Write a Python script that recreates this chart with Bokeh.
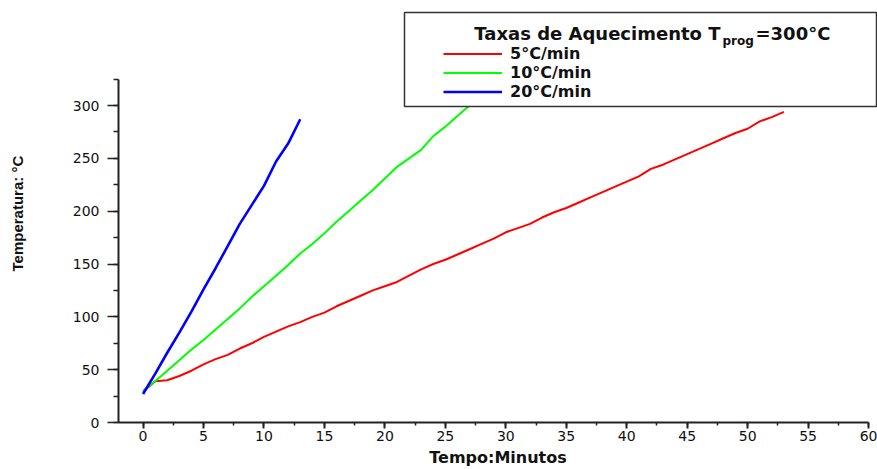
from bokeh.plotting import figure
from bokeh.models import Range1d, SingleIntervalTicker, Legend, LegendItem, Label, BoxAnnotation
from bokeh.embed import file_html
from bokeh.resources import INLINE

# ---- data ----
t_5 = [0, 1, 2, 3, 4, 5, 6, 7, 8, 9, 10, 11, 12, 13, 14, 15, 16, 17, 18, 19,
       20, 21, 22, 23, 24, 25, 26, 27, 28, 29, 30, 31, 32, 33, 34, 35, 36, 37, 38, 39,
       40, 41, 42, 43, 44, 45, 46, 47, 48, 49, 50, 51, 52, 53]
T_5 = [29, 39, 40, 44, 49, 55, 60, 64, 70, 75, 81, 86, 91, 95, 100, 104, 110, 115, 120, 125,
       129, 133, 139, 145, 150, 154, 159, 164, 169, 174, 180, 184, 188, 194, 199, 203, 208, 213, 218, 223,
       228, 233, 240, 244, 249, 254, 259, 264, 269, 274, 278, 285, 289, 294]
t_10 = [0, 1, 2, 3, 4, 5, 6, 7, 8, 9, 10, 11, 12, 13, 14, 15, 16, 17, 18, 19,
        20, 21, 22, 23, 24, 25, 26, 27]
T_10 = [30, 39, 49, 59, 69, 78, 88, 98, 108, 119, 129, 139, 149, 160, 169, 179, 190, 200, 210, 220,
        231, 242, 250, 258, 271, 280, 290, 300]
t_20 = [0, 1, 2, 3, 4, 5, 6, 7, 8, 9, 10, 11, 12, 13]
T_20 = [27, 46, 66, 85, 105, 126, 146, 167, 188, 206, 224, 247, 264, 287]

series_labels = ["5°C/min", "10°C/min", "20°C/min"]
legend_title_main = "Taxas de Aquecimento T"
legend_title_sub = "prog"
legend_title_tail = "=300°C"
x_title = "Tempo:Minutos"
y_title = "Temperatura:  °C"

TICK_FONT = "DejaVu Sans"

p = figure(width=877, height=469, output_backend="svg", toolbar_location=None,
           x_range=Range1d(-2.03, 60.74), y_range=Range1d(0, 399.4),
           min_border_left=118, min_border_right=0, min_border_top=0, min_border_bottom=47)
p.background_fill_color = "white"
p.border_fill_color = "white"
p.outline_line_color = None
p.xgrid.visible = False
p.ygrid.visible = False

r5 = p.line(t_5, T_5, line_color="#FF0000", line_width=2)
r10 = p.line(t_10, T_10, line_color="#00FF00", line_width=2)
r20 = p.line(t_20, T_20, line_color="#0000FF", line_width=2.6)

# axes
xa = p.xaxis[0]
xa.bounds = (-2.03, 60)
xa.ticker = SingleIntervalTicker(interval=5, num_minor_ticks=2)
xa.axis_label = x_title
xa.axis_label_text_font = TICK_FONT
xa.axis_label_text_font_style = "bold"
xa.axis_label_text_font_size = "16px"
xa.axis_label_text_color = "#111111"
xa.axis_label_standoff = 4
xa.major_label_text_font = TICK_FONT
xa.major_label_text_font_size = "14px"
xa.major_label_standoff = 2
xa.major_tick_out = 6
xa.major_tick_in = 0
xa.minor_tick_out = 3
xa.minor_tick_in = 0
xa.axis_line_width = 2
xa.major_tick_line_width = 2
xa.minor_tick_line_width = 1.5
xa.axis_line_color = "#222222"
xa.major_tick_line_color = "#222222"
xa.minor_tick_line_color = "#222222"
xa.major_label_text_color = "#111111"

ya = p.yaxis[0]
ya.bounds = (0, 325)
ya.ticker = SingleIntervalTicker(interval=50, num_minor_ticks=2)
ya.axis_label = y_title
ya.axis_label_text_font = "Liberation Sans"
ya.axis_label_text_font_style = "bold"
ya.axis_label_text_font_size = "15px"
ya.axis_label_text_color = "#111111"
ya.axis_label_standoff = 44
ya.major_label_text_font = TICK_FONT
ya.major_label_text_font_size = "14px"
ya.major_label_standoff = 8
ya.major_tick_out = 11
ya.major_tick_in = 0
ya.minor_tick_out = 5
ya.minor_tick_in = 0
ya.axis_line_width = 2
ya.major_tick_line_width = 1.5
ya.minor_tick_line_width = 1.5
ya.axis_line_color = "#222222"
ya.major_tick_line_color = "#222222"
ya.minor_tick_line_color = "#222222"
ya.major_label_text_color = "#111111"

# legend box (screen units relative to the frame: x from left, y from bottom)
box = BoxAnnotation(left=286, right=758, bottom=316, top=410,
                    left_units="screen", right_units="screen",
                    bottom_units="screen", top_units="screen",
                    fill_color="white", fill_alpha=1.0,
                    line_color="#333333", line_width=1.5, line_alpha=1.0)
p.add_layout(box)

legend = Legend(items=[LegendItem(label=series_labels[0], renderers=[r5]),
                       LegendItem(label=series_labels[1], renderers=[r10]),
                       LegendItem(label=series_labels[2], renderers=[r20])],
                location=(325, 321.5), orientation="vertical",
                margin=0, padding=0, spacing=0,
                glyph_width=59, glyph_height=19, label_height=19, label_standoff=8,
                label_text_font=TICK_FONT, label_text_font_style="bold",
                label_text_font_size="16px", label_text_color="#111111",
                border_line_color=None, background_fill_alpha=0.0)
p.add_layout(legend)

common = dict(x_units="screen", y_units="screen", text_font=TICK_FONT,
              text_font_style="bold", text_color="#111111", text_baseline="alphabetic")
p.add_layout(Label(x=602, y=388.7, text=legend_title_main, text_align="right",
                   text_font_size="18px", **common))
p.add_layout(Label(x=604, y=381.5, text=legend_title_sub, text_align="left",
                   text_font_size="12px", **common))
p.add_layout(Label(x=637, y=388.7, text=legend_title_tail, text_align="left",
                   text_font_size="18px", **common))

open("out.html", "w").write(file_html(p, INLINE))
